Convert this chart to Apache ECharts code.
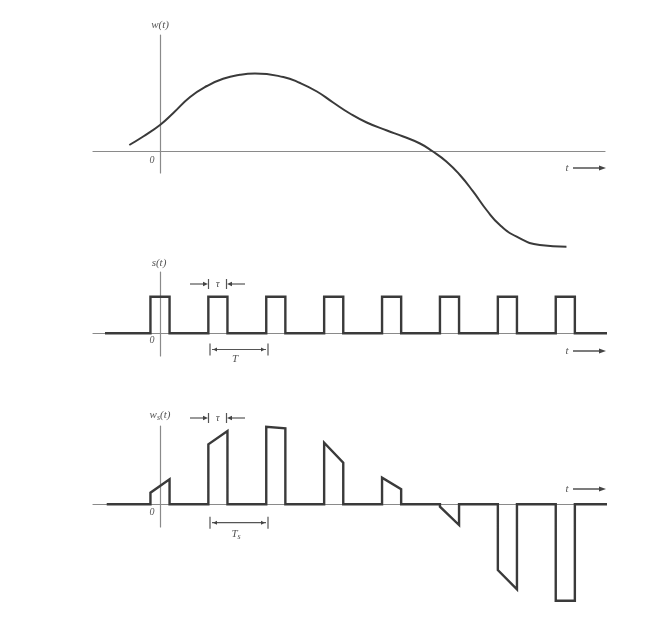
<!DOCTYPE html>
<html>
<head>
<meta charset="utf-8">
<script src="https://cdn.jsdelivr.net/npm/echarts@6/dist/echarts.min.js"></script>
<style>html,body{margin:0;padding:0;background:#fff}#c{width:662px;height:634px}</style>
</head>
<body>
<div id="c"></div>
<script>
// ---- data ----
// analog signal w(t): time (in units of T) and amplitude
const wTimes = [-0.53,-0.29,0,0.23,0.52,0.81,1.09,1.38,1.64,2.13,2.42,2.71,2.99,3.28,3.57,3.92,4.20,4.49,4.70,4.95,5.18,5.41,5.64,5.87,6.16,6.56,7.02];
const wValues = [0.06,0.145,0.26,0.38,0.54,0.65,0.722,0.762,0.775,0.74,0.68,0.595,0.485,0.375,0.285,0.205,0.145,0.075,0.0,-0.107,-0.24,-0.407,-0.59,-0.74,-0.857,-0.94,-0.957];
// switching waveform s(t)
const sampleTimes = [0,1,2,3,4,5,6,7];
const pulseWidth = 0.33;       // tau, in units of T
const pulseHeight = 1;
const sSpan = [-0.95, 7.86];
// sampled signal w_s(t): value at leading and trailing edge of each pulse
const wsLead  = [0.116,0.60,0.776,0.616,0.266,-0.024,-0.657,-0.964];
const wsTrail = [0.25,0.733,0.76,0.416,0.15,-0.207,-0.85,-0.964];
const wsSpan = [-0.92, 7.86];

// ---- build polylines ----
function pulseTrain(span, lead, trail) {
  const pts = [[span[0], 0]];
  sampleTimes.forEach((t, i) => {
    const a = t - pulseWidth / 2, b = t + pulseWidth / 2;
    pts.push([a, 0], [a, lead[i]], [b, trail[i]], [b, 0]);
  });
  pts.push([span[1], 0]);
  return pts;
}
const sData = pulseTrain(sSpan, sampleTimes.map(() => pulseHeight), sampleTimes.map(() => pulseHeight));
const wsData = pulseTrain(wsSpan, wsLead, wsTrail);
const wData = wTimes.map((t, i) => [t, wValues[i]]);

const chart = echarts.init(document.getElementById('c'), null, {renderer: 'canvas'});
const axisColor = '#8a8a8a';
const sigColor = '#3a3a3a';
function xAx(gi) {
  return {type: 'value', gridIndex: gi, min: -1.1572, max: 7.6857,
    axisLine: {show: true, onZero: true, lineStyle: {color: axisColor, width: 1.2}},
    axisTick: {show: false}, axisLabel: {show: false}, splitLine: {show: false}};
}
function yAx(gi, min, max) {
  return {type: 'value', gridIndex: gi, min: min, max: max,
    axisLine: {show: true, onZero: true, lineStyle: {color: axisColor, width: 1.2}},
    axisTick: {show: false}, axisLabel: {show: false}, splitLine: {show: false}};
}

// ---- annotation helpers (pixel layout) ----
const txtColor = '#555';
const g = [];
function text(x, y, str, size) {
  g.push({type: 'text', x: x, y: y, style: {text: str, font: 'italic ' + (size || 11) + 'px "Liberation Serif", serif', fill: txtColor, align: 'center', verticalAlign: 'middle'}});
}
function rich(x, y, main, sub) {
  g.push({type: 'text', x: x, y: y, style: {
    text: '{m|' + main[0] + '}{s|' + sub + '}{m|' + main.slice(1) + '}',
    align: 'center', verticalAlign: 'middle',
    rich: {m: {font: 'italic 11px "Liberation Serif", serif', fill: txtColor},
           s: {font: 'italic 8px "Liberation Serif", serif', fill: txtColor, padding: [6, 0, 0, 0]}}}});
}
function seg(x1, y1, x2, y2, w, c) {
  g.push({type: 'line', shape: {x1: x1, y1: y1, x2: x2, y2: y2}, style: {stroke: c || '#555', lineWidth: w || 1.2}});
}
function head(x, y, dir, len, half) {
  len = len || 6; half = half || 2.5;
  g.push({type: 'polygon', shape: {points: [[x, y], [x - dir * len, y - half], [x - dir * len, y + half]]}, style: {fill: '#444'}});
}
function tArrow(y) {
  text(567, y, 't', 11);
  seg(573, y, 600, y, 1.4, '#444');
  head(606, y, 1, 7, 2.5);
}
function tauMark(y) {
  seg(190, y, 205, y, 1.2); head(208, y, 1, 5, 2.2); seg(208.5, y - 5, 208.5, y + 5, 1.2);
  seg(230, y, 245, y, 1.2); head(227, y, -1, 5, 2.2); seg(226.5, y - 5, 226.5, y + 5, 1.2);
  text(217.7, y, 'τ', 11);
}
function periodMark(y, label, isSub) {
  seg(210, y - 6, 210, y + 6, 1.2); seg(268, y - 6, 268, y + 6, 1.2);
  seg(212, y, 266, y, 1.2); head(213, y, -1, 4, 2); head(265, y, 1, 4, 2);
  if (isSub) rich(236, y + 11, 'T', 's'); else text(235, y + 10, label, 11);
}
// labels
text(160, 25, 'w(t)');
text(152, 160, '0', 10);
tArrow(168);
text(159, 263, 's(t)');
text(152, 340, '0', 10);
tArrow(351);
tauMark(284);
periodMark(349.5, 'T', false);
rich(160, 415, 'w(t)', 's');
text(152, 512, '0', 10);
tArrow(489);
tauMark(418);
periodMark(522.7, 'T', true);

chart.setOption({
  animation: false,
  backgroundColor: '#fff',
  grid: [
    {left: 93, width: 512, top: 35, height: 138},
    {left: 93, width: 512, top: 272, height: 84},
    {left: 93, width: 512, top: 426, height: 101}
  ],
  xAxis: [xAx(0), xAx(1), xAx(2)],
  yAxis: [yAx(0, -0.22, 1.16), yAx(1, -0.62, 1.675), yAx(2, -0.227, 0.783)],
  series: [
    {type: 'line', xAxisIndex: 0, yAxisIndex: 0, data: wData, smooth: 0.5, showSymbol: false, clip: false,
      lineStyle: {color: sigColor, width: 2}},
    {type: 'line', xAxisIndex: 1, yAxisIndex: 1, data: sData, showSymbol: false, clip: false,
      lineStyle: {color: sigColor, width: 2.4, join: 'miter'}},
    {type: 'line', xAxisIndex: 2, yAxisIndex: 2, data: wsData, showSymbol: false, clip: false,
      lineStyle: {color: sigColor, width: 2.4, join: 'miter'}}
  ],
  graphic: g
});
</script>
</body>
</html>
